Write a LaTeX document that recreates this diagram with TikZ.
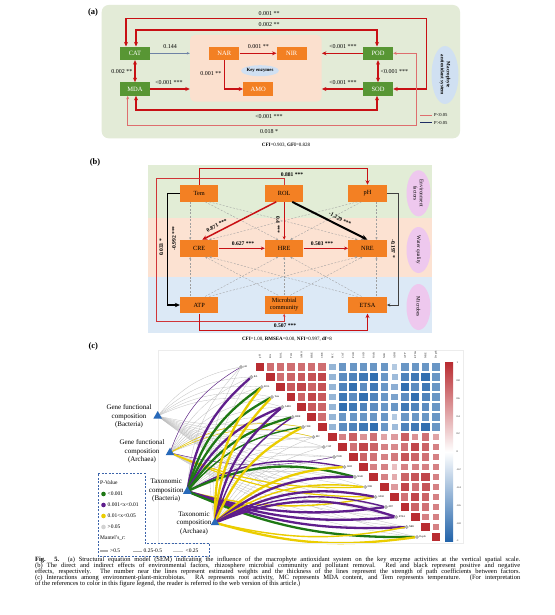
\documentclass[tikz,border=0pt]{standalone}
\usepackage{fontspec}
\setmainfont{Liberation Serif}
\usetikzlibrary{arrows.meta,shapes.geometric}
\pgfdeclarelayer{back}
\pgfdeclarelayer{lines}
\pgfsetlayers{back,lines,main}
\definecolor{bga}{RGB}{227,235,215}
\definecolor{peach}{RGB}{251,224,206}
\definecolor{gbox}{RGB}{88,150,52}
\definecolor{obox}{RGB}{243,128,35}
\definecolor{arr}{RGB}{200,16,20}
\definecolor{lred}{RGB}{222,110,110}
\definecolor{lineb}{RGB}{110,130,165}
\definecolor{navy}{RGB}{30,45,100}
\definecolor{lblue}{RGB}{208,224,242}
\definecolor{bgG}{RGB}{226,237,214}
\definecolor{bgP}{RGB}{252,226,210}
\definecolor{bgB}{RGB}{220,233,246}
\definecolor{pinkel}{RGB}{238,200,238}
\definecolor{hmred}{RGB}{185,45,50}
\definecolor{hmblue}{RGB}{35,100,170}
\definecolor{cgreen}{RGB}{30,120,20}
\definecolor{cpurple}{RGB}{95,30,140}
\definecolor{cyellow}{RGB}{235,205,0}
\definecolor{tric}{RGB}{40,105,185}
\definecolor{legb}{RGB}{60,100,170}
\newcommand\myfs[1]{\fontsize{#1}{#1}\selectfont}
\def\syGB{416}\def\syGA{452.7}\def\syTB{491.3}\def\syTA{522.7}
\newcommand\mylink[4]{%
 \pgfmathsetmacro\linkty{367+10*#2}%
 \ifdim\linkty pt<\csname sy#1\endcsname pt\relax
  \draw[draw=#3,line width=#4] (#1.center) to[bend left=20] (r#2);%
 \else
  \draw[draw=#3,line width=#4] (#1.center) to[bend right=12] (r#2);%
 \fi}
\begin{document}
\begin{tikzpicture}[x=1pt,y=-1pt,
 arrowA/.style={-{Stealth[length=4.5pt,width=4pt]}},
 arrowD/.style={{Stealth[length=4.5pt,width=4pt]}-{Stealth[length=4.5pt,width=4pt]}},
 redthick/.style={draw=arr,line width=1.3pt},
 lab/.style={font=\myfs{6}, inner sep=0.5pt},
 blab/.style={font=\bfseries\myfs{5.6}, inner sep=0.5pt},
 gbx/.style={fill=gbox,text=white,minimum width=30pt,minimum height=13.3pt,inner sep=0pt,font=\myfs{6.5}},
 obx/.style={gbx,fill=obox},
 bbx/.style={fill=obox,minimum width=38.3pt,minimum height=16.7pt,inner sep=0pt,align=center,font=\fontsize{6.3}{7}\selectfont},
 dsh/.style={draw=gray!75,line width=0.35pt,dash pattern=on 2pt off 1.5pt,-{Stealth[length=2.5pt,width=2.2pt]}},
 hml/.style={font=\myfs{2.6}, inner sep=0.3pt},
 tri/.style={regular polygon,regular polygon sides=3,fill=tric,minimum size=10pt,inner sep=0pt},
 pel/.style={ellipse,fill=pinkel,rotate=-90,minimum width=46pt,minimum height=24pt,inner sep=0pt,align=center,font=\fontsize{5.3}{6.2}\selectfont},
 leg/.style={font=\myfs{5.5}, inner sep=0.5pt, anchor=west},
 capl/.style={anchor=west, inner sep=0pt, font=\myfs{6.5}}]
\begin{pgfonlayer}{back}
\fill[white] (0,0) rectangle (554,615);
\end{pgfonlayer}
\useasboundingbox (0,0) rectangle (554,615);

% ---------------- (a)
\node[font=\bfseries\myfs{8.5}] (pa) at (93,12.7) {(a)};
\node[fill=bga, rounded corners=7pt, minimum width=358.3pt, minimum height=133.3pt, inner sep=0pt] (GBG) at (280.85,71.65) {};
\node[fill=peach, rounded corners=5pt, minimum width=131.7pt, minimum height=66.7pt, inner sep=0pt] (PE) at (255.85,68.35) {};
\node[gbx] (CAT) at (135,53.3) {CAT};
\node[gbx] (MDA) at (135,89) {MDA};
\node[gbx] (POD) at (378,53.3) {POD};
\node[gbx] (SOD) at (378,89) {SOD};
\node[obx] (NAR) at (224.3,53.3) {NAR};
\node[obx] (NIR) at (291.7,53.3) {NIR};
\node[obx] (AMO) at (258.3,89) {AMO};
\node[ellipse, fill=lblue, minimum width=37pt, minimum height=11pt, inner sep=0pt, font=\bfseries\myfs{4.8}] (KE) at (260,70.7) {Key enzymes};
\node[ellipse, fill=lblue, rotate=-90, minimum width=58pt, minimum height=27pt, inner sep=0pt, align=center, font=\bfseries\fontsize{5}{6}\selectfont] (MAS) at (445,75) {Macrophyte\\antioxidant system};

\draw[redthick,arrowD] ([xshift=-9pt]CAT.north) |- (426.7,18.3) |- (SOD.east);
\draw[redthick,arrowD] ([xshift=1pt]CAT.north) |- (377,30) -- ([xshift=-1pt]POD.north);
\draw[draw=lineb, line width=0.5pt, -{Stealth[length=3pt,width=2.5pt]}] (CAT.east) -- (CAT.east -| PE.west);
\draw[redthick,arrowA] (NAR.east) -- (NIR.west);
\draw[redthick,arrowA] (NAR.south) |- (AMO.west);
\draw[redthick,arrowA] (POD.west) -- (POD.west -| PE.east);
\draw[redthick,arrowA] (SOD.west) -- (SOD.west -| PE.east);
\draw[redthick,arrowA] (MDA.east) -- (MDA.east -| PE.west);
\draw[redthick,arrowD] (CAT.south) -- (MDA.north);
\draw[redthick,arrowD] (POD.south) -- (SOD.north);
\draw[redthick,arrowD] ([xshift=1pt]MDA.south) |- (377,110) -- ([xshift=-1pt]SOD.south);
\draw[draw=lred,line width=0.7pt,{Stealth[length=3.5pt,width=3pt]}-{Stealth[length=3.5pt,width=3pt]}] (POD.east) -| (416.7,125) -| ([xshift=-7.3pt]MDA.south);

\node[lab] (a1) at (269,13.3) {0.001 **};
\node[lab] (a2) at (269,25) {0.002 **};
\node[lab] (a3) at (170,47) {0.144};
\node[lab] (a4) at (258.3,47) {0.001 **};
\node[lab,anchor=east] (a5) at (222,74) {0.001 **};
\node[lab] (a6) at (343,47) {<0.001 ***};
\node[lab] (a7) at (343,82.5) {<0.001 ***};
\node[lab] (a8) at (169,82.5) {<0.001 ***};
\node[lab,anchor=east] (a9) at (133,71.7) {0.002 **};
\node[lab,anchor=west] (a10) at (380,71.7) {<0.001 ***};
\node[lab] (a11) at (269,116.7) {<0.001 ***};
\node[lab] (a12) at (269,131.3) {0.018 *};
\coordinate (lg1) at (420,115);
\coordinate (lg2) at (420,122.7);
\draw[lred, line width=0.7pt] (lg1) -- ++(12,0);
\draw[navy, line width=0.7pt] (lg2) -- ++(12,0);
\node[font=\myfs{4.6}, inner sep=0.5pt, anchor=west] (lg1t) at (433.5,115) {P<0.05};
\node[font=\myfs{4.6}, inner sep=0.5pt, anchor=west] (lg2t) at (433.5,122.7) {P>0.05};
\node[font=\myfs{5}, inner sep=0.5pt] (cfa) at (286,145.5) {\textbf{CFI}=0.903, \textbf{GFI}=0.828};

% ---------------- (b)
\node[font=\bfseries\myfs{8.5}] (pb) at (95,162.7) {(b)};
\fill[bgG] (148.3,165) rectangle (431.7,218.3);
\fill[bgP] (148.3,218.3) rectangle (431.7,276.7);
\fill[bgB] (148.3,276.7) rectangle (431.7,333);
\node[pel] (E1) at (418.5,193.3) {Environment\\factors};
\node[pel] (E2) at (418.5,250) {Water quality};
\node[pel] (E3) at (418.5,307) {Microbes};
\node[bbx] (Tem) at (199.2,193.3) {Tem};
\node[bbx] (ROL) at (284.2,193.3) {ROL};
\node[bbx] (pH) at (367.5,193.3) {pH};
\node[bbx] (CRE) at (199.2,248.3) {CRE};
\node[bbx] (HRE) at (284.2,248.3) {HRE};
\node[bbx] (NRE) at (367.5,248.3) {NRE};
\node[bbx] (ATP) at (199.2,305) {ATP};
\node[bbx, minimum height=18pt] (MC) at (284.2,304.5) {Microbial\\community};
\node[bbx] (ETSA) at (367.5,305) {ETSA};

\draw[dsh] ([xshift=-9pt]Tem.south) -- ([xshift=-9pt]CRE.north);
\draw[dsh] ([xshift=6pt]Tem.south) -- ([xshift=-6pt]HRE.north);
\draw[dsh] ([xshift=10pt]Tem.south) -- ([xshift=-10pt]NRE.north);
\draw[dsh] ([xshift=-10pt]pH.south) -- ([xshift=10pt]CRE.north);
\draw[dsh] ([xshift=-6pt]pH.south) -- ([xshift=6pt]HRE.north);
\draw[dsh] ([xshift=9pt]pH.south) -- ([xshift=9pt]NRE.north);
\draw[dsh] ([xshift=-9pt]ATP.north) -- ([xshift=-9pt]CRE.south);
\draw[dsh] ([xshift=6pt]ATP.north) -- ([xshift=-6pt]HRE.south);
\draw[dsh] ([xshift=10pt]ATP.north) -- ([xshift=-10pt]NRE.south);
\draw[dsh] ([xshift=-6pt]MC.north) -- ([xshift=6pt]CRE.south);
\draw[dsh] (MC.north) -- (HRE.south);
\draw[dsh] ([xshift=6pt]MC.north) -- ([xshift=-5pt]NRE.south);
\draw[dsh] ([xshift=-10pt]ETSA.north) -- ([xshift=10pt]CRE.south);
\draw[dsh] ([xshift=-6pt]ETSA.north) -- ([xshift=6pt]HRE.south);
\draw[dsh] ([xshift=9pt]ETSA.north) -- ([xshift=9pt]NRE.south);

\draw[draw=arr,line width=1.1pt,arrowA] (Tem.north) |- (367.5,168.3) -- (pH.north);
\draw[draw=arr!85,line width=0.5pt,-{Stealth[length=3pt,width=2.5pt]}] (ROL.north) |- (156,178.3) |- (284.2,321.7) -- (MC.south);
\draw[draw=black,line width=1.5pt,-{Stealth[length=5pt,width=4.5pt]}] (Tem.west) -| (167.3,305) -- (ATP.west);
\draw[draw=black!75,line width=0.6pt,-{Stealth[length=3.5pt,width=3pt]}] (pH.east) -| (398.3,305) -- (ETSA.east);
\draw[draw=arr,line width=1.1pt,arrowA] (ATP.south) |- (367.5,330.5) -- (ETSA.south);
\draw[draw=arr,line width=1.5pt,-{Stealth[length=5pt,width=4.5pt]}] ([xshift=-8pt]ROL.south) -- ([xshift=3pt]CRE.north);
\draw[draw=arr,line width=0.6pt,-{Stealth[length=3.5pt,width=3pt]}] (ROL.south) -- (HRE.north);
\draw[draw=black,line width=2pt,-{Stealth[length=6pt,width=5pt]}] ([xshift=8pt]ROL.south) -- (NRE.north);
\draw[draw=arr,line width=0.9pt,-{Stealth[length=4pt,width=3.5pt]}] (CRE.east) -- (HRE.west);
\draw[draw=arr,line width=0.9pt,-{Stealth[length=4pt,width=3.5pt]}] (HRE.east) -- (NRE.west);

\node[blab] (b1) at (292,174.3) {0.881 ***};
\node[blab] (b2) at (285,325.5) {0.507 ***};
\node[blab,rotate=27] (b3) at (216.7,225.5) {0.871 ***};
\node[blab,rotate=-90] (b4) at (278,225) {0.4 ***};
\node[blab,rotate=-28] (b5) at (340,219) {-1.229 ***};
\node[blab] (b6) at (243,243.8) {0.627 ***};
\node[blab] (b7) at (322,243.8) {0.503 ***};
\node[blab,rotate=90] (b8) at (161.3,247.5) {0.033 *};
\node[blab,rotate=90] (b9) at (174,238.5) {-0.992 ***};
\node[blab,rotate=-90] (b10) at (393.3,248.5) {-0.197 *};
\node[font=\myfs{5}, inner sep=0.5pt] (cfb) at (287,339) {\textbf{CFI}=1.00, \textbf{RMSEA}=0.00, \textbf{NFI}=0.997, \textbf{df}=8};

% ---------------- (c)
\node[font=\bfseries\myfs{8.5}] (pc) at (93.3,346.7) {(c)};
\draw[gray!15, line width=0.3pt] (158.3,350) rectangle (463.3,543);
\foreach \i in {0,...,17}{
 \foreach \j in {\i,...,17}{
  \pgfmathtruncatemacro\cellA{mod(\i*3+\j*5+\i*\j,5)}
  \ifnum\i=\j \def\cellV{1}\else
   \ifnum\j<7 \pgfmathsetmacro\cellV{0.62+0.06*\cellA}\else
    \ifnum\i<7
     \ifnum\j=7 \pgfmathsetmacro\cellV{-0.35-0.06*\cellA}\else
      \ifnum\j=13 \pgfmathsetmacro\cellV{-0.2-0.1*\cellA}\else
       \pgfmathsetmacro\cellV{-0.6-0.08*\cellA}\fi\fi
    \else
     \ifnum\j=13 \pgfmathsetmacro\cellV{0.15+0.1*\cellA}\else
      \ifnum\i=7 \pgfmathsetmacro\cellV{0.3+0.1*\cellA}\else
       \pgfmathsetmacro\cellV{0.5+0.09*\cellA}\fi\fi
    \fi
   \fi
  \fi
  \pgfmathsetmacro\cellM{abs(\cellV)}
  \pgfmathtruncatemacro\cellP{20+80*\cellM}
  \pgfmathsetmacro\cellH{4.4*(0.55+0.45*\cellM)}
  \ifdim\cellV pt>0pt \def\cellC{hmred}\else\def\cellC{hmblue}\fi
  \fill[\cellC!\cellP!white] ({260+10.35*\j-\cellH},{367+10*\i-\cellH}) rectangle ({260+10.35*\j+\cellH},{367+10*\i+\cellH});
 }
}
\foreach \nm [count=\k from 0] in {pH,RA,ROL,Tem,AMO,HRE,CRE,MC,CAT,POD,SOD,NAR,NIR,ADH,ATP,ETSA,NRE,Depth}{
 \node[hml,rotate=90,anchor=west] (cl\k) at ({260+10.35*\k},358.5) {\nm};
 \node[circle, fill=gray!55, draw=gray!75, line width=0.3pt, inner sep=0pt, minimum size=3.4pt] (r\k) at ({241+10.35*\k},{367+10*\k}) {};
 \node[hml,anchor=west] (rl\k) at ({243+10.35*\k},{367+10*\k}) {\nm};
}
\shade[top color=hmred, bottom color=hmblue, middle color=white] (445,362.7) rectangle (453,541);
\foreach \t [count=\k from 0] in {1,0.8,0.6,0.4,0.2,0,-0.2,-0.4,-0.6,-0.8,-1}{
 \node[hml,anchor=west] (cb\k) at (456,{362.7+17.83*\k}) {\t};
}
\node[tri] (GB) at (157.7,416) {};
\node[tri] (GA) at (170,452.7) {};
\node[tri] (TB) at (187.3,491.3) {};
\node[tri] (TA) at (215,522.7) {};
\node[align=center, font=\fontsize{7}{8.5}\selectfont, inner sep=0pt] (GBl) at (129,416.5) {Gene functional\\composition\\(Bacteria)};
\node[align=center, font=\fontsize{7}{8.5}\selectfont, inner sep=0pt] (GAl) at (142,451.7) {Gene functional\\composition\\(Archaea)};
\node[align=center, font=\fontsize{7}{8.5}\selectfont, inner sep=0pt] (TBl) at (166.2,490.7) {Taxonomic\\composition\\(Bacteria)};
\node[align=center, font=\fontsize{7}{8.5}\selectfont, inner sep=0pt] (TAl) at (194,523) {Taxonomic\\composition\\(Archaea)};
\begin{pgfonlayer}{lines}
\foreach \s in {GB,GA,TB,TA}{
 \foreach \k in {0,...,17}{\mylink{\s}{\k}{gray!50}{0.3pt}}
}
\foreach \s/\k/\lc/\lw in {GA/0/cpurple/0.4pt, GA/6/cyellow/0.5pt, GA/7/cyellow/0.5pt, GA/9/cpurple/0.4pt, GA/12/cyellow/1.2pt, GA/13/cyellow/1.2pt,
 TB/1/cpurple/2.3pt, TB/2/cgreen/2.3pt, TB/3/cgreen/2.3pt, TB/4/cpurple/2.3pt, TB/5/cgreen/2.3pt, TB/6/cgreen/1.4pt, TB/10/cpurple/1.4pt, TB/11/cgreen/2.3pt, TB/13/cyellow/1.4pt, TB/14/cpurple/2.3pt, TB/15/cpurple/2.3pt, TB/16/cpurple/2.3pt, TB/17/cgreen/2.3pt,
 TA/2/cyellow/2.3pt, TA/3/cyellow/2.3pt, TA/4/cpurple/2.3pt, TA/5/cpurple/1.4pt, TA/6/cyellow/2.3pt, TA/10/cyellow/2.3pt, TA/11/cpurple/2.3pt, TA/12/cyellow/1.4pt, TA/13/cpurple/2.3pt, TA/14/cpurple/1.4pt, TA/15/cpurple/2.3pt, TA/16/cyellow/1.4pt, TA/17/cyellow/2.3pt}{
 \mylink{\s}{\k}{\lc}{\lw}
}
\end{pgfonlayer}
% legend (c)
\draw[legb, line width=0.6pt, dash pattern=on 2pt off 1.5pt] (98.3,473.3) -- (145,473.3) -- (145,543.3) -- (209.3,543.3) -- (209.3,556.3) -- (98.3,556.3) -- cycle;
\node[leg] (pv) at (99.5,483) {P-Value};
\node[circle, fill=cgreen, minimum size=4.6pt, inner sep=0pt] (d1) at (103.5,494) {};
\node[circle, fill=cpurple, minimum size=4.6pt, inner sep=0pt] (d2) at (103.5,505) {};
\node[circle, fill=cyellow, minimum size=4.6pt, inner sep=0pt] (d3) at (103.5,516) {};
\node[circle, fill=gray!35, minimum size=4.6pt, inner sep=0pt] (d4) at (103.5,527) {};
\node[leg] (t1) at (107,494) {<0.001};
\node[leg] (t2) at (107,505) {0.001<x<0.01};
\node[leg] (t3) at (107,516) {0.01<x<0.05};
\node[leg] (t4) at (107,527) {>0.05};
\node[leg] (mr) at (99.5,538) {Mantel's\_r:};
\coordinate (m1) at (100,551);
\coordinate (m2) at (133,551);
\coordinate (m3) at (173,551);
\draw[gray!65, line width=1.6pt] (m1) -- ++(8.3,0);
\draw[gray!65, line width=0.9pt] (m2) -- ++(8.7,0);
\draw[gray!45, line width=0.3pt] (m3) -- ++(10,0);
\node[leg] (mt1) at (109.5,551) {>0.5};
\node[leg] (mt2) at (143,551) {0.25-0.5};
\node[leg] (mt3) at (185,551) {<0.25};

% ---------------- caption
\node[capl] (cap1) at (35,560.3) {\makebox[485pt][s]{\textbf{Fig. 5.} (a) Structural equation model (SEM) indicating the influence of the macrophyte antioxidant system on the key enzyme activities at the vertical spatial scale.}};
\node[capl] (cap2) at (35,566.3) {\makebox[485pt][s]{(b) The direct and indirect effects of environmental factors, rhizosphere microbial community and pollutant removal. Red and black represent positive and negative}};
\node[capl] (cap3) at (35,572.3) {\makebox[485pt][s]{effects, respectively. The number near the lines represent estimated weights and the thickness of the lines represent the strength of path coefficients between factors.}};
\node[capl] (cap4) at (35,578.3) {\makebox[485pt][s]{(c) Interactions among environment-plant-microbiotas. RA represents root activity, MC represents MDA content, and Tem represents temperature. (For interpretation}};
\node[capl] (cap5) at (35,584.3) {of the references to color in this figure legend, the reader is referred to the web version of this article.)};
\end{tikzpicture}
\end{document}
